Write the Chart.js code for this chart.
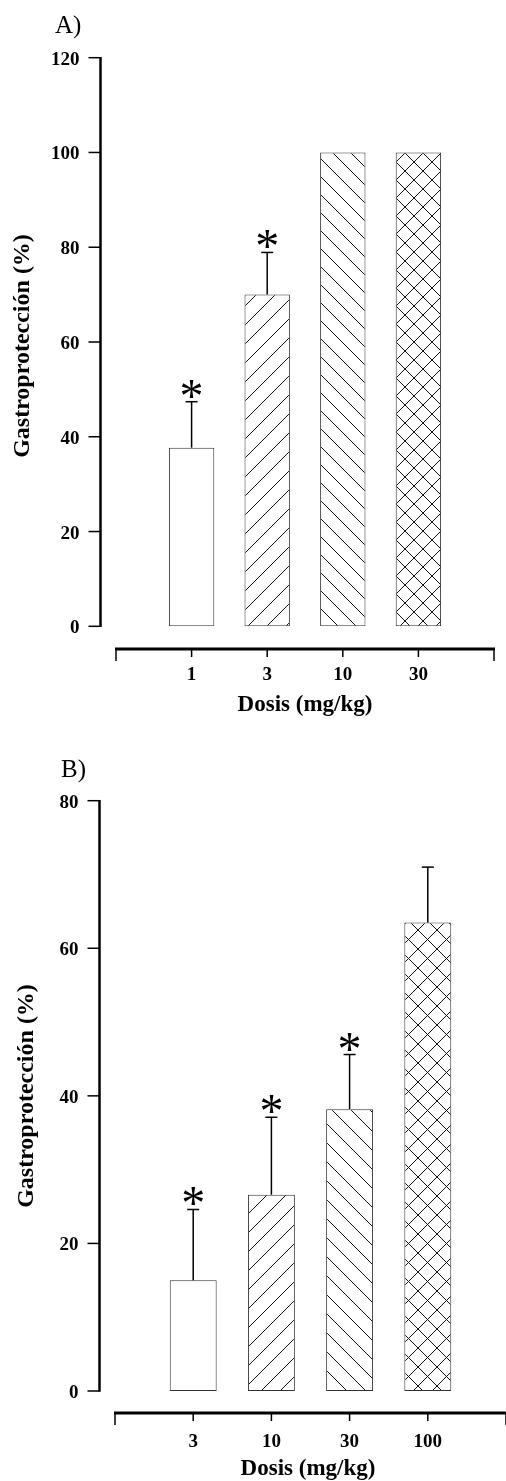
<!DOCTYPE html>
<html>
<head>
<meta charset="utf-8">
<script src="https://cdn.jsdelivr.net/npm/chart.js@4"></script>
<style>
  html, body { margin: 0; padding: 0; background: #fff; }
  canvas { display: block; }
</style>
</head>
<body>
<canvas id="chartA" width="506" height="740"></canvas>
<canvas id="chartB" width="506" height="741"></canvas>
<script>
// ---------- Data: panel A ----------
const doseLabelsA = ['1', '3', '10', '30'];
const gastroA = [37.7, 70.0, 100, 100];
const semA = [9.7, 8.9, 0, 0];
const starA = [true, true, false, false];
const yTicksA = [0, 20, 40, 60, 80, 100, 120];

// ---------- Data: panel B ----------
const doseLabelsB = ['3', '10', '30', '100'];
const gastroB = [15.0, 26.6, 38.2, 63.5];
const semB = [9.6, 10.5, 7.4, 7.5];
const starB = [true, true, true, false];
const yTicksB = [0, 20, 40, 60, 80];

const fillStyles = ['none', 'slash', 'backslash', 'cross'];

const SERIF = '"Liberation Serif", "Times New Roman", serif';

function makePattern(kind, s) {
  if (kind === 'none') return '#ffffff';
  const c = document.createElement('canvas');
  c.width = s; c.height = s;
  const g = c.getContext('2d');
  g.fillStyle = '#fff';
  g.fillRect(0, 0, s, s);
  g.strokeStyle = '#111';
  g.lineWidth = 1;
  for (let k = -1; k <= 1; k++) {
    if (kind === 'slash' || kind === 'cross') {
      g.beginPath(); g.moveTo(k * s, s); g.lineTo(k * s + s, 0); g.stroke();
    }
    if (kind === 'backslash' || kind === 'cross') {
      g.beginPath(); g.moveTo(k * s, 0); g.lineTo(k * s + s, s); g.stroke();
    }
  }
  return g.createPattern(c, 'repeat');
}

const axesPlugin = {
  id: 'customAxes',
  afterDraw(chart, args, o) {
    const ctx = chart.ctx;
    const xs = chart.scales.x, ys = chart.scales.y;
    const vals = o.values, sems = o.sems, stars = o.stars;
    const meta = chart.getDatasetMeta(0);
    ctx.save();
    ctx.strokeStyle = '#000';
    ctx.fillStyle = '#000';

    // error bars + stars
    vals.forEach((v, i) => {
      const el = meta.data[i + 1];
      if (!el) return;
      const bx = el.x, by = el.y;
      let topY = by;
      if (sems[i] > 0) {
        topY = ys.getPixelForValue(v + sems[i]);
        ctx.lineWidth = 1.5;
        ctx.beginPath(); ctx.moveTo(bx, by); ctx.lineTo(bx, topY); ctx.stroke();
        ctx.beginPath(); ctx.moveTo(bx - 6, topY); ctx.lineTo(bx + 6, topY); ctx.stroke();
      }
      if (stars[i]) {
        ctx.textAlign = 'center';
        ctx.textBaseline = 'alphabetic';
        ctx.font = '40px ' + SERIF;
        let m = ctx.measureText('*');
        const h0 = m.actualBoundingBoxAscent + m.actualBoundingBoxDescent;
        const size = 40 * 18 / h0;
        ctx.font = size.toFixed(1) + 'px ' + SERIF;
        m = ctx.measureText('*');
        const cy = topY - 13;
        const base = cy + (m.actualBoundingBoxAscent - m.actualBoundingBoxDescent) / 2;
        ctx.fillText('*', bx, base);
      }
    });

    // y axis
    const y0 = ys.getPixelForValue(0), yTop = ys.getPixelForValue(o.yTicks[o.yTicks.length - 1]);
    ctx.lineWidth = 2.5;
    ctx.beginPath(); ctx.moveTo(o.yAxisX, yTop - 0.8); ctx.lineTo(o.yAxisX, y0 + 0.8); ctx.stroke();
    ctx.lineWidth = 1.5;
    ctx.font = 'bold 19px ' + SERIF;
    ctx.textAlign = 'right';
    ctx.textBaseline = 'alphabetic';
    o.yTicks.forEach(t => {
      const py = ys.getPixelForValue(t);
      ctx.beginPath(); ctx.moveTo(o.yAxisX - 12, py); ctx.lineTo(o.yAxisX, py); ctx.stroke();
      ctx.fillText(String(t), o.yAxisX - 21, py + 7);
    });

    // x axis
    const labels = chart.data.labels;
    const xl = xs.getPixelForValue(0), xr = xs.getPixelForValue(labels.length - 1);
    ctx.lineWidth = 2.8;
    ctx.beginPath(); ctx.moveTo(xl - 1, o.xAxisY); ctx.lineTo(xr + 1, o.xAxisY); ctx.stroke();
    ctx.lineWidth = 1.5;
    ctx.font = 'bold 19px ' + SERIF;
    ctx.textAlign = 'center';
    labels.forEach((lab, i) => {
      const px = xs.getPixelForValue(i);
      const end = (i === 0 || i === labels.length - 1);
      ctx.beginPath(); ctx.moveTo(px, o.xAxisY); ctx.lineTo(px, o.xAxisY + (end ? 12 : 8)); ctx.stroke();
      if (lab) ctx.fillText(lab, px, o.xLabelBase);
    });

    // axis titles
    ctx.font = 'bold 23px ' + SERIF;
    ctx.textAlign = 'center';
    ctx.fillText(o.xTitle, o.xTitleX, o.xTitleBase);

    ctx.save();
    ctx.translate(o.yTitleBase, o.yTitleCY);
    ctx.rotate(-Math.PI / 2);
    ctx.font = 'bold 24px ' + SERIF;
    ctx.textAlign = 'center';
    ctx.fillText(o.yTitle, 0, 0);
    ctx.restore();

    // panel letter
    ctx.font = '25px ' + SERIF;
    ctx.textAlign = 'left';
    ctx.fillText(o.panel, o.panelX, o.panelBase);
    ctx.restore();
  }
};

function buildChart(id, doses, values, sems, stars, yTicks, hatch, cfg) {
  const labels = ['', ...doses, ''];
  const data = [null, ...values, null];
  const bg = [null, ...fillStyles.map(k => makePattern(k, hatch[k] || 18)), null];
  return new Chart(document.getElementById(id), {
    type: 'bar',
    data: {
      labels: labels,
      datasets: [{
        data: data,
        backgroundColor: bg,
        borderColor: '#333',
        borderWidth: 1,
        borderSkipped: false,
        categoryPercentage: 0.6,
        barPercentage: 1.0
      }]
    },
    options: {
      responsive: false,
      animation: false,
      devicePixelRatio: 1,
      layout: { padding: cfg.padding },
      scales: {
        x: { type: 'category', offset: false, display: false },
        y: { min: 0, max: yTicks[yTicks.length - 1], display: false }
      },
      plugins: {
        legend: { display: false },
        tooltip: { enabled: false },
        customAxes: Object.assign({
          values: values, sems: sems, stars: stars, yTicks: yTicks,
          xTitle: 'Dosis (mg/kg)', yTitle: 'Gastroprotección (%)'
        }, cfg.axes)
      }
    },
    plugins: [axesPlugin]
  });
}

buildChart('chartA', doseLabelsA, gastroA, semA, starA, yTicksA,
  { slash: 19, backslash: 18.5, cross: 18 },
  {
    padding: { left: 116, right: 12, top: 57.7, bottom: 113.7 },
    axes: {
      yAxisX: 100.5, xAxisY: 649, xLabelBase: 680, xTitleX: 305, xTitleBase: 711,
      yTitleBase: 29, yTitleCY: 346, panel: 'A)', panelX: 55, panelBase: 33
    }
  });

buildChart('chartB', doseLabelsB, gastroB, semB, starB, yTicksB,
  { slash: 19, backslash: 19, cross: 19 },
  {
    padding: { left: 115, right: -1.5, top: 60.7, bottom: 90 },
    axes: {
      yAxisX: 99.5, xAxisY: 673, xLabelBase: 707, xTitleX: 308, xTitleBase: 735,
      yTitleBase: 33, yTitleCY: 356, panel: 'B)', panelX: 61, panelBase: 37
    }
  });
</script>
</body>
</html>
